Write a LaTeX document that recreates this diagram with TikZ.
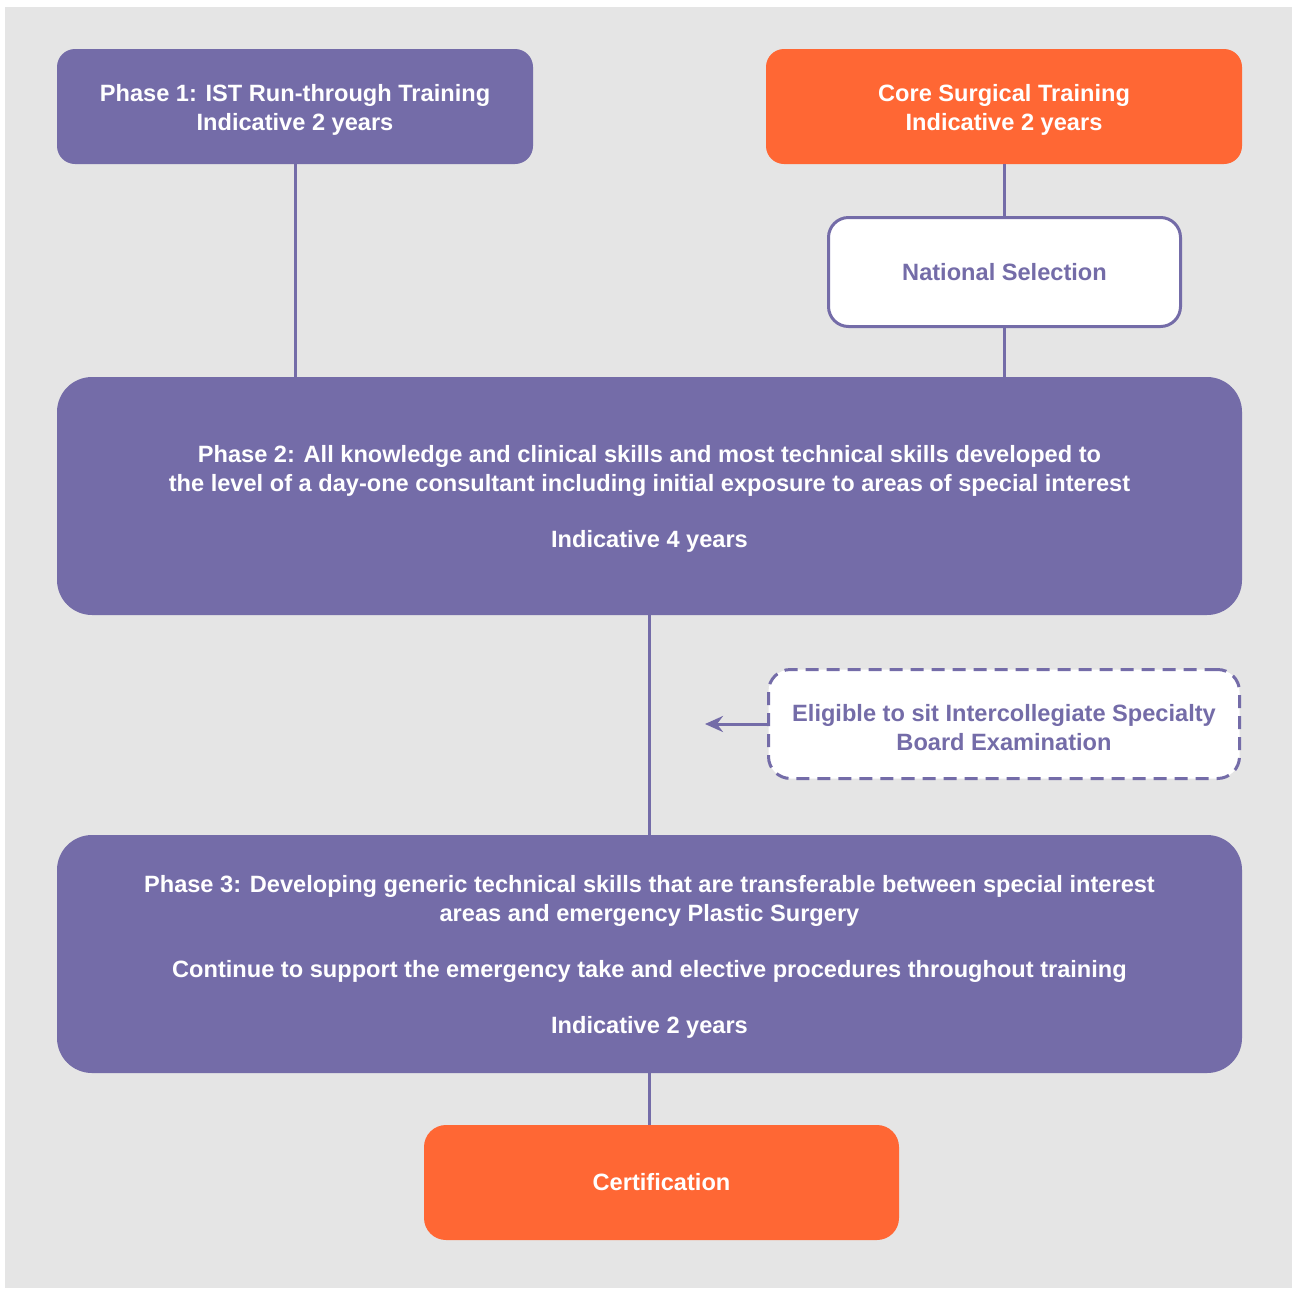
\documentclass[tikz,border=0pt]{standalone}
\usepackage{fontspec}
\setmainfont{Liberation Sans}
\usetikzlibrary{arrows.meta}
\definecolor{bgGray}{RGB}{229,229,229}
\definecolor{pPurple}{RGB}{116,108,168}
\definecolor{pOrange}{RGB}{255,103,52}
\newcommand\tfix{\rule{0pt}{23.4pt}}
\tikzset{
  basebox/.style={rounded corners=#1, inner sep=0pt, align=center,
    font=\fontsize{23.6}{29}\selectfont\bfseries},
  purplebox/.style={basebox=#1, fill=pPurple, text=white},
  orangebox/.style={basebox=#1, fill=pOrange, text=white},
  whitebox/.style={basebox=#1, fill=white, draw=pPurple, line width=3pt, text=pPurple},
  dashbox/.style={basebox=#1, fill=white, draw=pPurple, line width=3pt,
    dash pattern=on 13pt off 8pt, text=pPurple},
  conn/.style={draw=pPurple, line width=3pt},
  arr/.style={conn, -{Stealth[length=18pt,width=16pt,inset=6pt]}},
}
\begin{document}
\begin{tikzpicture}[x=1pt,y=-1pt]
\useasboundingbox (0,0) rectangle (1292,1288);
\fill[white] (0,0) rectangle (1292,1288);
\fill[bgGray] (5,7) rectangle (1292,1288);

\node[purplebox=18pt, minimum width=476pt, minimum height=115pt] (p1) at (295,106.5)
  {\tfix Phase 1: IST Run-through Training\\Indicative 2 years};
\node[orangebox=18pt, minimum width=476pt, minimum height=115pt] (cst) at (1004,106.5)
  {\tfix Core Surgical Training\\Indicative 2 years};
\node[whitebox=20pt, minimum width=352pt, minimum height=109pt] (ns) at (1004.5,272)
  {National Selection};
\node[purplebox=35pt, minimum width=1185pt, minimum height=238pt] (p2) at (649.5,496)
  {\tfix Phase 2: All knowledge and clinical skills and most technical skills developed to\\
   the level of a day-one consultant including initial exposure to areas of special interest\\[27pt]
   Indicative 4 years};
\node[dashbox=22pt, minimum width=471pt, minimum height=109pt] (elig) at (1004,724)
  {\tfix Eligible to sit Intercollegiate Specialty\\Board Examination};
\coordinate (eligTip) at (705,724);
\node[purplebox=35pt, minimum width=1185pt, minimum height=238pt] (p3) at (649.5,954)
  {\tfix Phase 3: Developing generic technical skills that are transferable between special interest\\
   areas and emergency Plastic Surgery\\[27pt]
   Continue to support the emergency take and elective procedures throughout training\\[27pt]
   Indicative 2 years};
\node[orangebox=22pt, minimum width=475pt, minimum height=115pt] (cert) at (661.5,1182.5)
  {Certification};

\draw[conn] (p1.south) -- (p1.south |- p2.north);
\draw[conn] (cst.south) -- (cst.south |- ns.north);
\draw[conn] (ns.south) -- (ns.south |- p2.north);
\draw[conn] (p2.south) -- (p2.south |- p3.north);
\draw[conn] (p3.south) -- (p3.south |- cert.north);
\draw[arr] (elig.west) -- (eligTip);
\end{tikzpicture}
\end{document}
